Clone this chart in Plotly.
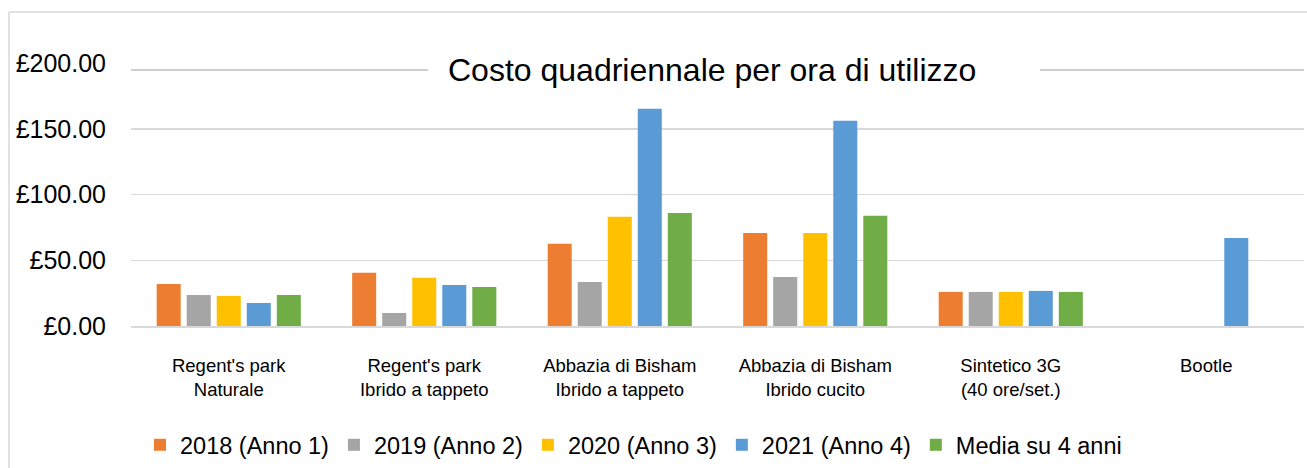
import plotly.graph_objects as go

categories = [
    "Regent's park<br>Naturale",
    "Regent's park<br>Ibrido a tappeto",
    "Abbazia di Bisham<br>Ibrido a tappeto",
    "Abbazia di Bisham<br>Ibrido cucito",
    "Sintetico 3G<br>(40 ore/set.)",
    "Bootle<br> ",
]
series_names = ["2018 (Anno 1)", "2019 (Anno 2)", "2020 (Anno 3)", "2021 (Anno 4)", "Media su 4 anni"]
v2018 = [32.0, 40.4, 62.5, 70.8, 25.9, None]
v2019 = [23.6, 9.9, 33.5, 37.3, 25.9, None]
v2020 = [22.9, 36.6, 83.0, 70.8, 25.9, None]
v2021 = [17.5, 31.2, 165.3, 156.0, 26.7, 67.0]
vmedia = [23.6, 29.7, 86.0, 83.8, 25.9, None]
colors = ["#ED7D31", "#A5A5A5", "#FFC000", "#5B9BD5", "#70AD47"]
tick_vals = [0, 50, 100, 150, 200]
tick_text = ["£0.00", "£50.00", "£100.00", "£150.00", "£200.00"]

W, H = 1307, 468
L, R, T, B = 131, 3, 63, 142

fig = go.Figure()
for name, vals, col in zip(series_names, [v2018, v2019, v2020, v2021, vmedia], colors):
    fig.add_trace(go.Bar(name=name, x=categories, y=vals, marker=dict(color=col, line=dict(width=0))))

pw = W - L - R
ph = H - T - B
def px_x(x):
    return (x - L) / pw
def px_y(y):
    return (H - B - y) / ph

shapes = [
    dict(type="line", xref="paper", yref="y", x0=0, x1=1, y0=200, y1=200,
         line=dict(color="white", width=3), layer="above"),
    dict(type="line", xref="paper", yref="paper", x0=0, x1=px_x(428), y0=px_y(70), y1=px_y(70),
         line=dict(color="#BFBFBF", width=1.5), layer="above"),
    dict(type="line", xref="paper", yref="paper", x0=px_x(1040), x1=px_x(1304), y0=px_y(70), y1=px_y(70),
         line=dict(color="#BFBFBF", width=1.5), layer="above"),
    dict(type="line", xref="paper", yref="paper", x0=px_x(9), x1=px_x(1310), y0=px_y(12), y1=px_y(12),
         line=dict(color="#D9D9D9", width=1.5), layer="above"),
    dict(type="line", xref="paper", yref="paper", x0=px_x(9), x1=px_x(9), y0=px_y(12), y1=px_y(470),
         line=dict(color="#D9D9D9", width=1.5), layer="above"),
]

FONT = "Liberation Sans, Arial, sans-serif"
fig.update_layout(
    width=W, height=H,
    margin=dict(l=L, r=R, t=T, b=B, autoexpand=False),
    paper_bgcolor="white", plot_bgcolor="white",
    barmode="group", bargap=0.232, bargroupgap=0.2,
    font=dict(family=FONT, color="#000000"),
    showlegend=True,
    legend=dict(orientation="h", x=px_x(140), xanchor="left", y=px_y(445), yanchor="middle",
                font=dict(size=23.5, family=FONT),
                itemwidth=30, traceorder="normal", bgcolor="rgba(0,0,0,0)"),
    shapes=shapes,
    annotations=[dict(text="Costo quadriennale per ora di utilizzo", xref="paper", yref="paper",
                      x=px_x(712), y=px_y(70), xanchor="center", yanchor="middle", showarrow=False,
                      font=dict(size=32, family=FONT, color="#000000"))],
    hovermode=False,
)
fig.update_yaxes(range=[0, 200], tickvals=tick_vals, ticktext=tick_text, showgrid=True,
                 gridcolor="#D9D9D9", gridwidth=1.5, zeroline=False, showline=False,
                 tickfont=dict(size=25, family=FONT), ticklabelstandoff=24)
fig.update_xaxes(showgrid=False, showline=True, linecolor="#D9D9D9", linewidth=2, ticks="",
                 tickfont=dict(size=18.5, family=FONT), ticklabelstandoff=22,
                 tickangle=0)

fig.write_html("out.html", config={"displayModeBar": False, "staticPlot": True},
               post_script="document.body.style.margin='0';document.body.style.overflow='hidden';")
